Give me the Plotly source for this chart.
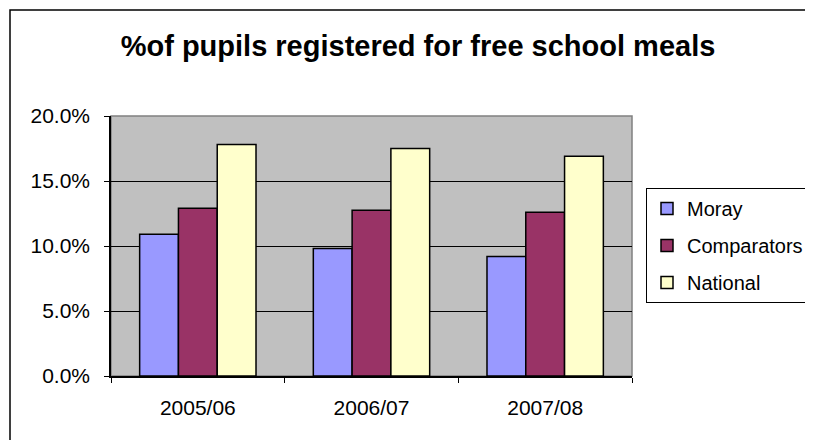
import plotly.graph_objects as go

categories = ["2005/06", "2006/07", "2007/08"]
moray = [10.9, 9.8, 9.2]
comparators = [12.9, 12.75, 12.6]
national = [17.8, 17.5, 16.9]
series_names = ["Moray", "Comparators", "National"]
series_colors = ["#9999FF", "#993366", "#FFFFCC"]
y_ticks = [0, 5, 10, 15, 20]
y_tick_labels = ["0.0%", "5.0%", "10.0%", "15.0%", "20.0%"]
title_text = "%of pupils registered for free school meals"

FONT = "Liberation Sans, Arial, sans-serif"

# page body has an 8px margin; size the figure so the page fits the window
OFF = 8
W, H = 813 - 2 * OFF, 448 - 2 * OFF

def sx(px):  # screen px -> figure px
    return px - OFF

def sy(py):
    return py - OFF

L, R, T, B = sx(111), sx(632), sy(116), sy(376)

fig = go.Figure()
for name, vals, col in zip(series_names, [moray, comparators, national], series_colors):
    fig.add_trace(go.Bar(
        x=categories, y=vals, name=name, legendgroup=name,
        marker=dict(color=col, line=dict(color="black", width=1.5)),
        hoverinfo="skip",
    ))

def px_to_paper_x(px):
    return (sx(px) - L) / (R - L)

def px_to_paper_y(py):
    return (B - sy(py)) / (B - T)

fig.update_layout(
    width=W, height=H,
    margin=dict(l=L, r=W - R, t=T, b=H - B, pad=0, autoexpand=False),
    paper_bgcolor="white",
    plot_bgcolor="#C0C0C0",
    barmode="group",
    bargap=0.33,
    bargroupgap=0,
    font=dict(family=FONT, size=21, color="black"),
    title=dict(
        text="<b>" + title_text + "</b>",
        x=sx(418) / W, xanchor="center",
        y=1 - sy(46) / H, yanchor="middle",
        font=dict(family=FONT, size=29, color="black"),
    ),
    legend=dict(
        x=px_to_paper_x(646), xanchor="left",
        y=px_to_paper_y(188), yanchor="top",
        bordercolor="black", borderwidth=1,
        bgcolor="white",
        font=dict(family=FONT, size=20, color="black"),
        tracegroupgap=8,
        traceorder="grouped",
        itemclick=False, itemdoubleclick=False,
    ),
    showlegend=True,
    shapes=[
        dict(type="rect", xref="paper", yref="paper",
             x0=0, x1=1, y0=0, y1=1,
             line=dict(color="#808080", width=1.5), layer="below"),
        dict(type="rect", xref="paper", yref="paper",
             x0=px_to_paper_x(10), x1=px_to_paper_x(900),
             y0=px_to_paper_y(520), y1=px_to_paper_y(10),
             line=dict(color="black", width=1.5), layer="above"),
    ],
)

fig.update_yaxes(
    range=[0, 20],
    tickvals=y_ticks, ticktext=y_tick_labels,
    showgrid=True, gridcolor="black", gridwidth=1,
    showline=True, linecolor="black", linewidth=1.5,
    ticks="outside", ticklen=5, tickcolor="black", tickwidth=1,
    ticklabelstandoff=10,
    zeroline=False,
    fixedrange=True,
)
fig.update_xaxes(
    showline=True, linecolor="black", linewidth=1.5,
    ticks="outside", tickson="boundaries", ticklen=5, tickcolor="black", tickwidth=1,
    ticklabelstandoff=12,
    showgrid=False,
    fixedrange=True,
)

fig.write_html("out.html", config=dict(displayModeBar=False))
